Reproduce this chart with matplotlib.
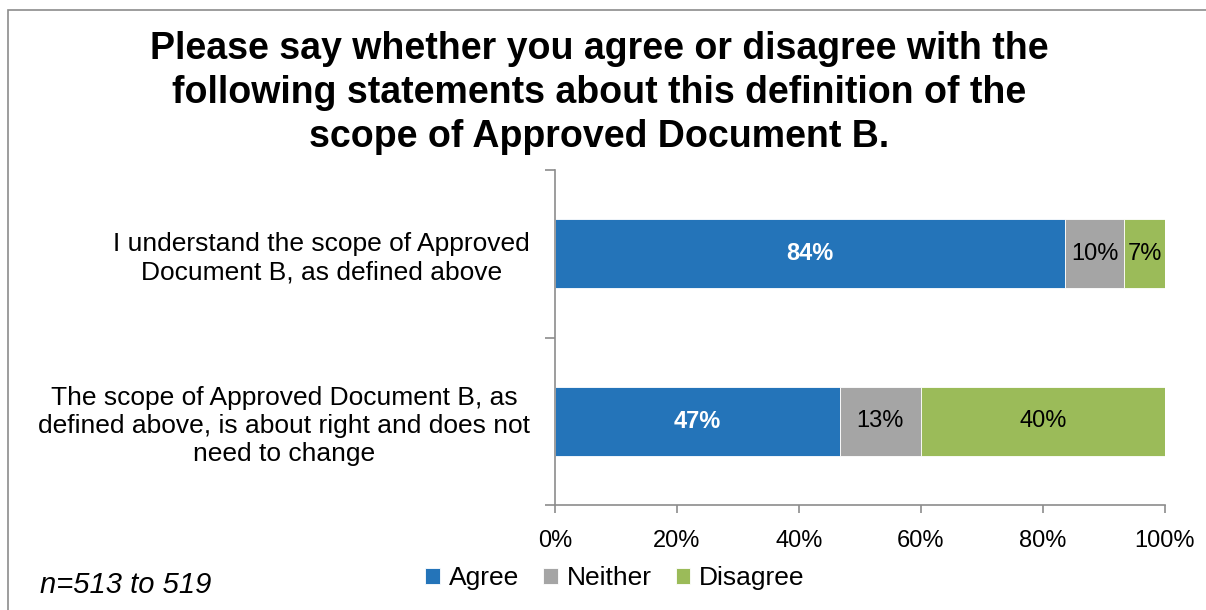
import matplotlib
matplotlib.use("Agg")
import matplotlib.pyplot as plt
from matplotlib.patches import Rectangle
import numpy as np

plt.rcParams['font.family'] = ['Liberation Sans', 'DejaVu Sans']

statements = [
    "I understand the scope of Approved\nDocument B, as defined above",
    "The scope of Approved Document B, as\ndefined above, is about right and does not\nneed to change",
]
series_names = ["Agree", "Neither", "Disagree"]
agree = [83.6, 46.7]
neither = [9.7, 13.3]
disagree = [6.7, 40.0]
colors = ["#2474B9", "#A5A5A5", "#9BBB59"]
xtick_values = [0, 20, 40, 60, 80, 100]

fig = plt.figure(figsize=(12.06, 6.10), dpi=100)
ax = fig.add_axes([555 / 1206, 1 - 505 / 610, 610 / 1206, 335 / 610])

# outer frame
fig.patches.append(Rectangle((8 / 1206, -0.01), 1.2, 1 - 10 / 610 + 0.01,
                             transform=fig.transFigure, fill=False,
                             edgecolor="#8C8C8C", linewidth=1.2))

y = np.arange(len(statements))
left = np.zeros(len(statements))
for name, vals, col in zip(series_names, [agree, neither, disagree], colors):
    bars = ax.barh(y, vals, left=left, height=0.41, color=col, label=name,
                   edgecolor="white", linewidth=0.6)
    for i, (b, v) in enumerate(zip(bars, vals)):
        cx = left[i] + v / 2
        if name == "Agree":
            ax.text(cx, y[i], f"{v:.0f}%", ha="center", va="center",
                    color="white", fontsize=17, fontweight="bold")
        else:
            ax.text(cx, y[i], f"{v:.0f}%", ha="center", va="center",
                    color="black", fontsize=17)
    left = left + np.array(vals)

ax.set_xlim(0, 100)
ax.set_ylim(1.5, -0.5)
ax.set_xticks(xtick_values)
ax.set_xticklabels([f"{v}%" for v in xtick_values], fontsize=17)
ax.set_yticks(y)
ax.set_yticklabels(statements, fontsize=19, multialignment="center",
                   linespacing=1.22)
ax.tick_params(axis="y", length=0, pad=18)
ax.set_yticks([-0.5, 0.5, 1.5], minor=True)
ax.tick_params(axis="y", which="minor", length=7, color="#8C8C8C", width=1.2)
ax.tick_params(axis="x", length=6, color="#8C8C8C", width=1.2, pad=12)

for s in ["top", "right"]:
    ax.spines[s].set_visible(False)
for s in ["left", "bottom"]:
    ax.spines[s].set_color("#8C8C8C")
    ax.spines[s].set_linewidth(1.2)

fig.text(0.497, 1 - 93 / 610,
         "Please say whether you agree or disagree with the\n"
         "following statements about this definition of the\n"
         "scope of Approved Document B.",
         ha="center", va="center", fontsize=27, fontweight="bold",
         linespacing=1.3)

ax.legend(loc="center", bbox_to_anchor=(615 / 1206, 1 - 578 / 610),
          bbox_transform=fig.transFigure, ncol=3, frameon=False,
          fontsize=19, handlelength=0.55, handleheight=0.55,
          handletextpad=0.35, columnspacing=0.9)

fig.text(40 / 1206, 1 - 585 / 610, "n=513 to 519", ha="left", va="center",
         fontsize=21, style="italic")

fig.savefig("out.png", dpi=100)
